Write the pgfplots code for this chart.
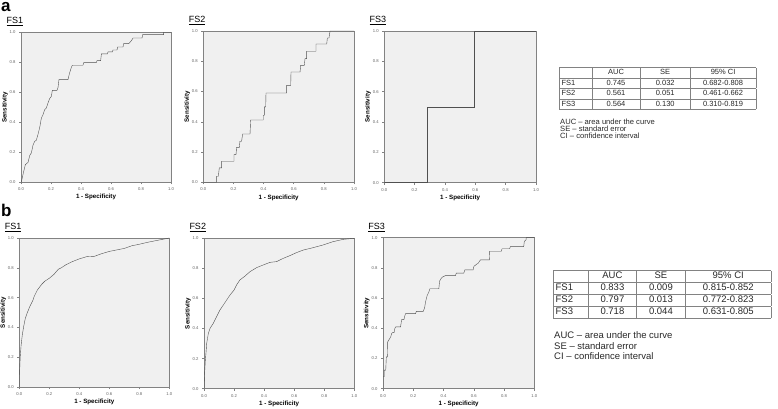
\documentclass[border=0pt]{standalone}
\usepackage{pgfplots}
\pgfplotsset{compat=1.18}
\usepackage{fontspec}
\setmainfont{Liberation Sans}
\usepackage{array}
\usepackage{colortbl}

\definecolor{rocfill}{RGB}{240,240,240}
\definecolor{rocframe}{RGB}{130,130,130}
\definecolor{rocline}{RGB}{80,80,80}
\definecolor{ticktext}{RGB}{100,100,100}
\definecolor{tabtext}{RGB}{40,40,40}

\newcolumntype{C}[1]{>{\centering\arraybackslash}p{#1}}
\newcolumntype{L}[1]{>{\raggedright\arraybackslash\hspace{2pt}}p{#1}}

\pgfplotsset{
  roc/.style={
    scale only axis, anchor=south west,
    xmin=0, xmax=1, ymin=0, ymax=1,
    axis background/.style={fill=rocfill},
    axis line style={rocframe, line width=0.8pt},
    xtick={0,0.2,...,1}, ytick={0,0.2,...,1},
    xtick pos=left, ytick pos=left,
    tick align=outside, major tick length=2pt,
    tick style={rocframe, line width=0.5pt},
    ticklabel style={font=\fontsize{4.2}{4.2}\selectfont, text=ticktext},
    xticklabel style={/pgf/number format/fixed, /pgf/number format/fixed zerofill, /pgf/number format/precision=1},
    yticklabel style={/pgf/number format/fixed, /pgf/number format/fixed zerofill, /pgf/number format/precision=1},
    /pgf/number format/assume math mode=true,
    xlabel={1 - Specificity}, ylabel={Sensitivity},
    label style={font=\fontsize{6.2}{6.2}\selectfont\bfseries},
    xlabel style={at={(axis description cs:0.5,-0.1)}, anchor=center},
    ylabel style={at={(axis description cs:-0.107,0.5)}, anchor=center},
    % the default title style already shifts 6pt up
    title style={at={(axis description cs:-0.12,1.03)}, anchor=west, font=\fontsize{9}{9}\selectfont},
    cycle list={{rocline, line width=0.9pt, no marks}},
  }
}

\begin{document}
\begin{tikzpicture}
\useasboundingbox (0pt,0pt) rectangle (778pt,409pt);

\node[anchor=base west, inner sep=0pt, font=\fontsize{17}{17}\selectfont\bfseries] at (1pt,397pt) {a};
\node[anchor=base west, inner sep=0pt, font=\fontsize{17}{17}\selectfont\bfseries] at (1pt,192.5pt) {b};

% ---- panel a ----
\begin{axis}[roc, at={(21pt,226.7pt)}, width=150pt, height=150pt, title={\underline{FS1}}]
\addplot coordinates {
(0,0) (0.002,0) (0.013,0.051) (0.029,0.118) (0.047,0.133) (0.058,0.178) (0.069,0.196)
(0.08,0.247) (0.091,0.273) (0.102,0.28) (0.113,0.318) (0.124,0.362) (0.136,0.429)
(0.147,0.451) (0.158,0.484) (0.169,0.496) (0.18,0.529) (0.191,0.558) (0.202,0.573)
(0.209,0.613) (0.24,0.613) (0.247,0.633) (0.253,0.684) (0.313,0.684) (0.324,0.729)
(0.336,0.767) (0.342,0.78) (0.413,0.78) (0.418,0.798) (0.502,0.798) (0.507,0.811)
(0.531,0.811) (0.536,0.856) (0.576,0.856) (0.58,0.869) (0.609,0.869) (0.613,0.882)
(0.64,0.882) (0.644,0.902) (0.68,0.902) (0.684,0.924) (0.718,0.924) (0.736,0.944)
(0.747,0.962) (0.807,0.962) (0.811,0.984) (0.951,0.984) (0.951,1) (1,1)
};
\end{axis}

\begin{axis}[roc, at={(203.3pt,226.7pt)}, width=150.7pt, height=151.3pt, title={\underline{FS2}}]
\addplot coordinates {
(0,0) (0.088,0) (0.088,0.04) (0.1,0.04) (0.106,0.095) (0.122,0.095) (0.122,0.139)
(0.204,0.139) (0.204,0.183) (0.217,0.183) (0.221,0.231) (0.239,0.231) (0.243,0.271)
(0.254,0.271) (0.261,0.319) (0.31,0.319) (0.314,0.412) (0.398,0.412) (0.398,0.443)
(0.405,0.443) (0.405,0.498) (0.414,0.498) (0.416,0.59) (0.553,0.59) (0.553,0.641)
(0.58,0.641) (0.582,0.729) (0.642,0.729) (0.646,0.773) (0.67,0.773) (0.675,0.817)
(0.686,0.817) (0.686,0.866) (0.748,0.866) (0.748,0.914) (0.819,0.914) (0.823,0.954)
(0.834,0.954) (0.841,1) (1,1)
};
\end{axis}

\begin{axis}[roc, at={(384.3pt,226.3pt)}, width=151.7pt, height=151.7pt, title={\underline{FS3}}]
\addplot coordinates {
(0,0) (0.283,0) (0.283,0.5) (0.593,0.5) (0.593,1) (1,1)
};
\end{axis}

% ---- panel b ----
\begin{axis}[roc, at={(19.3pt,22pt)}, width=150pt, height=149pt, title={\underline{FS1}}]
\addplot coordinates {
(0,0) (0.002,0.1) (0.006,0.2) (0.012,0.28) (0.02,0.35) (0.03,0.41) (0.04,0.46)
(0.05,0.49) (0.07,0.54) (0.09,0.58) (0.1,0.61) (0.12,0.65) (0.15,0.69) (0.17,0.71)
(0.2,0.73) (0.23,0.755) (0.26,0.79) (0.28,0.80) (0.31,0.82) (0.35,0.84) (0.4,0.86)
(0.45,0.875) (0.5,0.877) (0.55,0.895) (0.6,0.91) (0.65,0.92) (0.7,0.93) (0.75,0.948)
(0.8,0.958) (0.85,0.97) (0.9,0.98) (0.95,0.99) (1,1)
};
\end{axis}

\begin{axis}[roc, at={(204pt,20.3pt)}, width=150.3pt, height=150.4pt, title={\underline{FS2}}]
\addplot coordinates {
(0,0) (0.004,0.102) (0.009,0.191) (0.013,0.235) (0.018,0.302) (0.029,0.368)
(0.04,0.401) (0.062,0.435) (0.084,0.479) (0.106,0.523) (0.129,0.557) (0.151,0.59)
(0.173,0.623) (0.2,0.656) (0.217,0.69) (0.239,0.723) (0.273,0.749) (0.306,0.778)
(0.35,0.805) (0.395,0.823) (0.439,0.84) (0.483,0.845) (0.528,0.867) (0.572,0.885)
(0.616,0.905) (0.661,0.922) (0.727,0.938) (0.794,0.956) (0.86,0.978) (0.927,0.993) (1,1)
};
\end{axis}

\begin{axis}[roc, at={(383pt,20.3pt)}, width=151.3pt, height=151pt, title={\underline{FS3}}]
\addplot coordinates {
(0,0) (0,0.079) (0.007,0.079) (0.007,0.123) (0.018,0.123) (0.022,0.211) (0.029,0.211)
(0.031,0.31) (0.04,0.325) (0.051,0.343) (0.057,0.365) (0.062,0.371) (0.073,0.371)
(0.079,0.402) (0.084,0.409) (0.116,0.409) (0.123,0.457) (0.138,0.457) (0.145,0.486)
(0.149,0.497) (0.215,0.497) (0.22,0.512) (0.266,0.512) (0.275,0.536) (0.281,0.574)
(0.292,0.618) (0.303,0.64) (0.31,0.662) (0.369,0.662) (0.374,0.712) (0.382,0.727)
(0.391,0.738) (0.413,0.749) (0.479,0.749) (0.484,0.765) (0.534,0.765) (0.541,0.787)
(0.596,0.787) (0.6,0.809) (0.615,0.822) (0.629,0.831) (0.644,0.853) (0.703,0.853)
(0.705,0.91) (0.782,0.91) (0.787,0.927) (0.837,0.927) (0.842,0.941) (0.93,0.941)
(0.934,0.976) (0.945,0.985) (0.947,1) (1,1)
};
\end{axis}

% ---- tables ----
\node[anchor=north west, inner sep=0pt, text=tabtext] at (559pt,341.7pt) {%
\fontsize{7.5}{10}\selectfont\setlength{\tabcolsep}{0pt}\arrayrulecolor{rocframe}%
\begin{tabular}{|L{32pt}|C{48pt}|C{49.6pt}|C{65.3pt}|}
\hline
 & AUC & SE & 95\% CI\\ \hline
FS1 & 0.745 & 0.032 & 0.682-0.808\\ \hline
FS2 & 0.561 & 0.051 & 0.461-0.662\\ \hline
FS3 & 0.564 & 0.130 & 0.310-0.819\\ \hline
\end{tabular}};
\node[anchor=north west, inner sep=0pt, align=left, text=tabtext, font=\fontsize{7.6}{7.2}\selectfont] at (560pt,290.5pt)
{AUC – area under the curve\\SE – standard error\\CI – confidence interval};

\node[anchor=north west, inner sep=0pt, text=tabtext] at (553pt,139pt) {%
\fontsize{9.5}{11.6}\selectfont\setlength{\tabcolsep}{0pt}\arrayrulecolor{rocframe}%
\begin{tabular}{|L{34.6pt}|C{47.6pt}|C{48.6pt}|C{85.3pt}|}
\hline
 & AUC & SE & 95\% CI\\ \hline
FS1 & 0.833 & 0.009 & 0.815-0.852\\ \hline
FS2 & 0.797 & 0.013 & 0.772-0.823\\ \hline
FS3 & 0.718 & 0.044 & 0.631-0.805\\ \hline
\end{tabular}};
\node[anchor=north west, inner sep=0pt, align=left, text=tabtext, font=\fontsize{9.5}{10.7}\selectfont] at (554pt,77.5pt)
{AUC – area under the curve\\SE – standard error\\CI – confidence interval};
\end{tikzpicture}
\end{document}
